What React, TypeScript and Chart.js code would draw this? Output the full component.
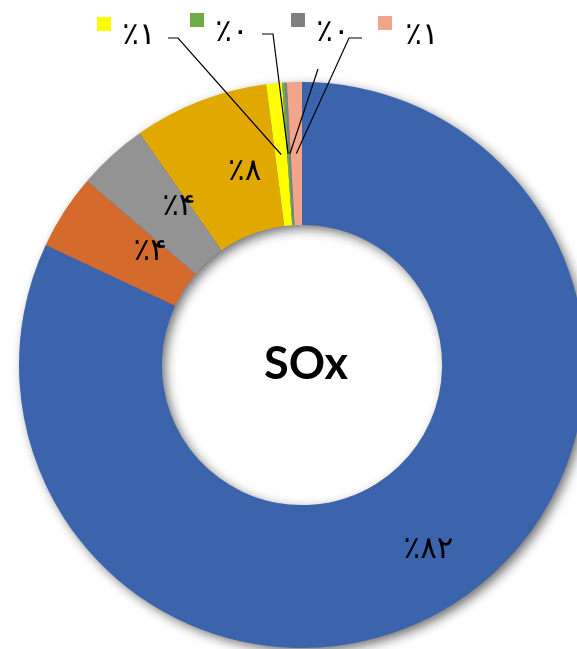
import React, { useEffect, useRef } from "react";
import { Chart, registerables } from "chart.js";

Chart.register(...registerables);

const categories = ["A", "B", "C", "D", "E", "F", "G", "H"];
const values = [81.9, 4.3, 4.0, 7.7, 0.9, 0.15, 0.12, 0.85];
const labels = ["٪۸۲", "٪۴", "٪۴", "٪۸", "٪۱", "٪۰", "٪۰", "٪۱"];
const colors = ["#3C64AD", "#D46A2C", "#939393", "#E1A900", "#FFFF00", "#70AD47", "#7F7F7F", "#F1A68B"];
const centerTitle = "SOx";

// inside-label nudges (layout only)
const insideOffsets = [[13, 6], [26, 2], [19, -1], [19, 4]];

// Outside-label layout (index, key box, text center, leader start points)
const outsideLabels = [
  { index: 4, key: [97, 17], text: [139, 36], leader: [[168, 38], [178, 38]] },
  { index: 5, key: [190, 13], text: [232, 33], leader: [[262, 34], [273, 34]] },
  { index: 6, key: [291, 13], text: [333, 33], leader: [[318, 69]] },
  { index: 7, key: [378, 16], text: [422, 36], leader: [[362, 38], [349, 38]] },
];

const FONT = '"DejaVu Sans", sans-serif';

const shadowPlugin = {
  id: "ringShadow",
  beforeDatasetsDraw(chart: any) {
    const meta = chart.getDatasetMeta(0);
    const arc = meta.data[0] as any;
    if (!arc) return;
    const { x, y, outerRadius, innerRadius } = arc.getProps(["x", "y", "outerRadius", "innerRadius"], true);
    const ctx = chart.ctx;
    ctx.save();
    ctx.shadowColor = "rgba(0,0,0,0.6)";
    ctx.shadowBlur = 12;
    ctx.shadowOffsetX = 4;
    ctx.shadowOffsetY = 4;
    ctx.beginPath();
    ctx.arc(x, y, outerRadius - 1, 0, Math.PI * 2);
    ctx.arc(x, y, innerRadius + 1, 0, Math.PI * 2, true);
    ctx.closePath();
    ctx.fillStyle = "#3C64AD";
    ctx.fill("evenodd");
    ctx.restore();
  },
};

const labelPlugin = {
  id: "labels",
  afterDatasetsDraw(chart: any) {
    const ctx = chart.ctx;
    const meta = chart.getDatasetMeta(0);
    ctx.save();
    ctx.textAlign = "center";
    ctx.textBaseline = "middle";
    ctx.fillStyle = "#000";
    ctx.font = `31px ${FONT}`;
    for (let i = 0; i < 4; i++) {
      const p = meta.data[i].tooltipPosition(false);
      ctx.fillText(labels[i], p.x + insideOffsets[i][0], p.y + insideOffsets[i][1]);
    }
    // outside labels
    for (const ol of outsideLabels) {
      const el = meta.data[ol.index];
      const p = el.tooltipPosition(false);
      ctx.fillStyle = colors[ol.index];
      ctx.fillRect(ol.key[0], ol.key[1], 14, 14);
      ctx.fillStyle = "#000";
      ctx.font = `31px ${FONT}`;
      ctx.fillText(labels[ol.index], ol.text[0], ol.text[1]);
      ctx.beginPath();
      ctx.strokeStyle = "#000";
      ctx.lineWidth = 1.2;
      ctx.moveTo(ol.leader[0][0], ol.leader[0][1]);
      for (let k = 1; k < ol.leader.length; k++) ctx.lineTo(ol.leader[k][0], ol.leader[k][1]);
      ctx.lineTo(p.x, p.y);
      ctx.stroke();
    }
    // center title
    const a = meta.data[0] as any;
    ctx.font = 'bold 45px Lato, "Open Sans", sans-serif';
    ctx.fillStyle = "#000";
    ctx.fillText(centerTitle, a.x + 4, a.y - 1);
    ctx.restore();
  },
};

export default function App() {
  const ref = useRef<HTMLCanvasElement>(null);
  useEffect(() => {
    if (!ref.current) return;
    const chart = new Chart(ref.current, {
      type: "doughnut",
      data: {
        labels: categories,
        datasets: [
          {
            data: values,
            backgroundColor: colors,
            borderWidth: 0,
          },
        ],
      },
      options: {
        responsive: false,
        animation: false,
        devicePixelRatio: 1,
        cutout: "49.5%",
        layout: { padding: 19 },
        plugins: { legend: { display: false }, tooltip: { enabled: false } },
      },
      plugins: [shadowPlugin, labelPlugin],
    });
    return () => chart.destroy();
  }, []);
  return (
    <div style={{ position: "fixed", left: 0, top: 0, width: 577, height: 649, overflow: "hidden", background: "#fff" }}>
      <canvas ref={ref} width={604} height={730} style={{ display: "block" }} />
    </div>
  );
}
